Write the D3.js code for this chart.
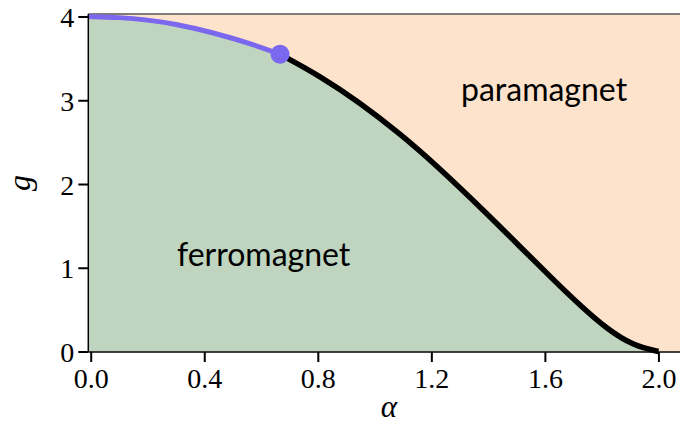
<!DOCTYPE html>
<html>
<head>
<meta charset="utf-8">
<script src="https://cdn.jsdelivr.net/npm/d3@7"></script>
<style>
  body { margin: 0; background: #fff; }
  svg { display: block; }
</style>
</head>
<body>
<svg width="680" height="425"></svg>
<script>
// boundary: low-alpha (purple) branch up to the dot, then black branch
const purpleAlpha = [-0.008, 0.1, 0.2, 0.3, 0.43, 0.57, 0.667];
const purpleG = [4.0, 3.99, 3.96, 3.91, 3.81, 3.67, 3.55];

const blackAlpha = [0.667, 0.808, 0.949, 1.09, 1.219, 1.395, 1.513, 1.629, 1.724, 1.818, 1.911, 2.0];
const blackG = [3.55, 3.29, 2.97, 2.6, 2.22, 1.65, 1.25, 0.86, 0.55, 0.27, 0.07, 0.0];

const xTicks = [0, 0.4, 0.8, 1.2, 1.6, 2.0];
const yTicks = [0, 1, 2, 3, 4];
const regionLabels = ["ferromagnet", "paramagnet"];

const svg = d3.select("svg");

const x = d3.scaleLinear().domain([-0.0085, 2.076]).range([88.3, 680]);
const y = d3.scaleLinear().domain([0, 4.03]).range([351.5, 14]);

const purple = purpleAlpha.map((a, i) => ({a, g: purpleG[i]}));
const black = blackAlpha.map((a, i) => ({a, g: blackG[i]}));
const boundary = purple.concat(black.slice(1));

// background = paramagnet
svg.append("rect")
  .attr("x", x.range()[0]).attr("y", y.range()[1])
  .attr("width", x.range()[1] - x.range()[0])
  .attr("height", y.range()[0] - y.range()[1])
  .attr("fill", "#fee3cc");

const area = d3.area()
  .x(d => x(d.a))
  .y0(y(0))
  .y1(d => y(d.g))
  .curve(d3.curveBasis);

svg.append("path")
  .datum(boundary)
  .attr("d", area)
  .attr("fill", "#bfd5bf");

// top edge
svg.append("line")
  .attr("x1", x.range()[0]).attr("x2", x.range()[1])
  .attr("y1", 14).attr("y2", 14)
  .attr("stroke", "#555").attr("stroke-width", 1.5);

const line = d3.line()
  .x(d => x(d.a))
  .y(d => y(d.g))
  .curve(d3.curveBasis);

svg.append("path")
  .datum(black)
  .attr("d", line)
  .attr("fill", "none")
  .attr("stroke", "#000")
  .attr("stroke-width", 5.5);

svg.append("path")
  .datum(purple)
  .attr("d", line)
  .attr("fill", "none")
  .attr("stroke", "#7b68ee")
  .attr("stroke-width", 5);

svg.append("circle")
  .attr("cx", x(purpleAlpha[purpleAlpha.length - 1]))
  .attr("cy", y(purpleG[purpleG.length - 1]))
  .attr("r", 9.5)
  .attr("fill", "#7b68ee");

// spines
svg.append("line")
  .attr("x1", x.range()[0]).attr("x2", x.range()[0])
  .attr("y1", 14).attr("y2", 352)
  .attr("stroke", "#000").attr("stroke-width", 1.5);
svg.append("line")
  .attr("x1", x.range()[0]).attr("x2", 680)
  .attr("y1", 352).attr("y2", 352)
  .attr("stroke", "#000").attr("stroke-width", 1.5);

const tickFont = "'Liberation Serif', 'DejaVu Serif', serif";

const xAxis = svg.append("g")
  .attr("transform", "translate(0,352)")
  .call(d3.axisBottom(x).tickValues(xTicks).tickFormat(d3.format(".1f")).tickSize(10));
xAxis.select(".domain").remove();
xAxis.selectAll(".tick line").attr("stroke-width", 2);
xAxis.selectAll(".tick text")
  .attr("y", 16).attr("dy", "0.71em")
  .attr("font-family", tickFont).attr("font-size", 28).attr("fill", "#000");

const yAxis = svg.append("g")
  .attr("transform", `translate(${x.range()[0]},0)`)
  .call(d3.axisLeft(y).tickValues(yTicks).tickFormat(d3.format("d")).tickSize(10));
yAxis.select(".domain").remove();
yAxis.selectAll(".tick line").attr("stroke-width", 2);
yAxis.selectAll(".tick text")
  .attr("x", -14).attr("dy", "0.36em")
  .attr("font-family", tickFont).attr("font-size", 28).attr("fill", "#000");

// axis titles
svg.append("text")
  .attr("transform", "translate(30,183) rotate(-90)")
  .attr("text-anchor", "middle")
  .attr("font-family", tickFont).attr("font-style", "italic").attr("font-size", 32)
  .text("g");

svg.append("text")
  .attr("x", 389).attr("y", 417)
  .attr("text-anchor", "middle")
  .attr("font-family", tickFont).attr("font-style", "italic").attr("font-size", 31)
  .text("α");

// region labels
const labelFont = "Lato, 'Open Sans', sans-serif";
svg.append("text")
  .attr("x", 177).attr("y", 266)
  .attr("font-family", labelFont).attr("font-size", 32).attr("fill", "#000")
  .text(regionLabels[0]);
svg.append("text")
  .attr("x", 461).attr("y", 101)
  .attr("font-family", labelFont).attr("font-size", 32).attr("fill", "#000")
  .text(regionLabels[1]);
</script>
</body>
</html>
